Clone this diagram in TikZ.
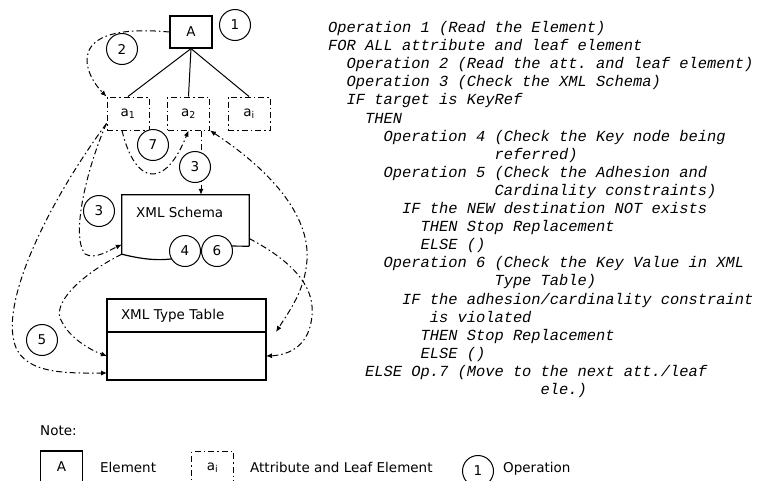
\documentclass[tikz,border=0pt]{standalone}
\usepackage{fontspec}
\setmainfont{DejaVu Sans}
\newfontfamily\codefont{Liberation Mono}
\usepackage{tikz}
\usetikzlibrary{positioning, arrows.meta, calc}
\newcommand{\tabin}[1]{\hspace*{#1\dimexpr0.6em\relax}}

\begin{document}
\begin{tikzpicture}[
  x=1pt, y=1pt,
  font=\fontsize{13.5}{16}\selectfont,
  dashline/.style={line width=1pt, dash pattern=on 6pt off 3pt on 1.5pt off 3pt},
  element/.style={draw, line width=1.2pt, minimum width=42pt, minimum height=32pt, inner sep=0pt},
  attr/.style={draw, dashline, minimum width=42pt, minimum height=33pt, inner sep=0pt},
  op/.style={draw, line width=1pt, circle, fill=white, minimum size=31pt, inner sep=0pt},
  store/.style={draw, line width=1.2pt, minimum width=159pt, text width=131pt,
    inner xsep=14pt, inner ysep=0pt, outer sep=0pt, align=left},
  flow/.style={dashline, -{Latex[length=6pt,width=5pt]}},
  bothflow/.style={dashline, {Latex[length=6pt,width=5pt]}-{Latex[length=6pt,width=5pt]}},
  code/.style={font=\codefont\itshape\fontsize{15.4}{18.1}\selectfont\frenchspacing,
    align=left, inner sep=0pt},
  legend/.style={anchor=west, inner sep=0pt}
]
\useasboundingbox (0,0) rectangle (758,-480);

\node[element] (A) at (191,-32) {A};
\node[attr] (a1) at (128,-113.5) {a\textsubscript{1}};
\node[attr] (a2) at (188.5,-113.5) {a\textsubscript{2}};
\node[attr] (ai) at (249,-113.5) {a\textsubscript{i}};

\node[minimum width=127pt, minimum height=59pt, inner sep=0pt] (schema) at (185.5,-224.5) {};
\node[anchor=west, inner sep=0pt] (schemaLabel) at (136,-212) {XML Schema};
\draw[line width=1.2pt] ([yshift=8pt]schema.south east) -- (schema.north east)
  -- (schema.north west) -- (schema.south west)
  .. controls (145,-260) and (165,-262) .. (185,-256)
  .. controls (200,-250) and (210,-246) .. (225,-246) -- ([yshift=8pt]schema.south east);

\node[store, minimum height=33pt] (ttHead) at (186.5,-315.5) {XML Type Table};
\node[store, minimum height=48pt, below=0pt of ttHead] (ttBody) {};

\draw[line width=1pt] (A.south) -- (a1.north);
\draw[line width=1pt] (A.south) -- (a2.north);
\draw[line width=1pt] (A.south) -- (ai.north);

\draw[flow] (A.west) .. controls (60,-22) and (85,-75) .. (a1.north west);
\draw[flow] ([xshift=-6pt]a1.south) .. controls (135,-185) and (165,-190) .. (a2.south);
\draw[flow] ([xshift=-9pt]a2.south east) -- ([xshift=-9pt]a2.south east |- schema.north);
\draw[flow] ([yshift=-10pt]a1.west) .. controls (88,-165) and (70,-235) .. (85,-254)
  .. controls (95,-260) and (110,-250) .. ([yshift=-20pt]schema.west);
\draw[flow] ([yshift=-10pt]a1.west) .. controls (50,-200) and (0,-300) .. (15,-345)
  .. controls (25,-375) and (70,-373) .. ([yshift=-17pt]ttBody.west);
\draw[flow] (schema.south west) .. controls (80,-275) and (50,-305) .. (62,-322)
  .. controls (70,-338) and (90,-350) .. (ttBody.west);
\draw[bothflow] (a2.south east) .. controls (270,-170) and (310,-215) .. (307,-260)
  .. controls (305,-290) and (290,-310) .. ([xshift=10pt]ttHead.south east);
\draw[flow] ([yshift=-14pt]schema.east) .. controls (290,-260) and (315,-285) .. (312,-315)
  .. controls (310,-345) and (290,-355) .. (ttBody.east);

\node[op] (op1) at (235,-25) {1};
\node[op] (op2) at (122,-49) {2};
\node[op] (op7) at (153,-145) {7};
\node[op] (op3a) at (195,-167) {3};
\node[op] (op3b) at (99,-211) {3};
\node[op] (op4) at (185,-251) {4};
\node[op] (op6) at (217,-251) {6};
\node[op] (op5) at (42,-340) {5};

\node[code, anchor=base west] (ops) at (328,-394.5) {%
Operation 1 (Read the Element)\\
FOR ALL attribute and leaf element\\
\tabin{2}Operation 2 (Read the att. and leaf element)\\
\tabin{2}Operation 3 (Check the XML Schema)\\
\tabin{2}IF target is KeyRef\\
\tabin{4}THEN\\
\tabin{6}Operation 4 (Check the Key node being\\
\tabin{18}referred)\\
\tabin{6}Operation 5 (Check the Adhesion and\\
\tabin{18}Cardinality constraints)\\
\tabin{8}IF the NEW destination NOT exists\\
\tabin{10}THEN Stop Replacement\\
\tabin{10}ELSE ()\\
\tabin{6}Operation 6 (Check the Key Value in XML\\
\tabin{18}Type Table)\\
\tabin{8}IF the adhesion/cardinality constraint\\
\tabin{11}is violated\\
\tabin{10}THEN Stop Replacement\\
\tabin{10}ELSE ()\\
\tabin{4}ELSE Op.7 (Move to the next att./leaf\\
\tabin{23}ele.)};

\node[legend] (note) at (40,-431) {Note:};
\node[element] (legA) at (61.5,-467) {A};
\node[legend] (legAText) at (100,-467) {Element};
\node[attr] (legai) at (212.5,-468) {a\textsubscript{i}};
\node[legend] (legaiText) at (250,-467) {Attribute and Leaf Element};
\node[op] (legop) at (478,-471) {1};
\node[legend] (legopText) at (503,-469) {Operation};

\end{tikzpicture}
\end{document}
